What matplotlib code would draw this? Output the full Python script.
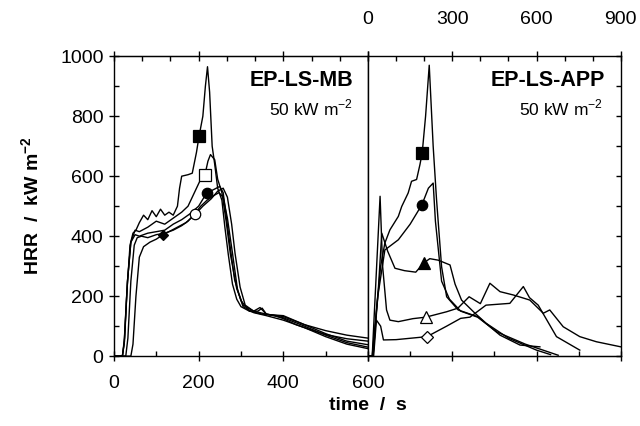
"""HRR curves for EP-LS-MB and EP-LS-APP at 50 kW m-2 (two panels, shared y)."""

import matplotlib

matplotlib.use("Agg")
import matplotlib.pyplot as plt
import numpy as np
from matplotlib.ticker import MultipleLocator, NullFormatter

plt.rcParams["font.family"] = ["Liberation Sans", "DejaVu Sans"]
plt.rcParams["mathtext.fontset"] = "custom"
plt.rcParams["mathtext.rm"] = "Liberation Sans"
plt.rcParams["mathtext.bf"] = "Liberation Sans:bold"

# --- left panel: EP-LS-MB (time axis 0-600 s) ---
mb_sq_t = [0, 20, 24, 30, 38, 45, 52, 60, 70, 80, 90, 100, 110, 120, 130, 140, 150, 155, 160, 175,
           185, 195, 201, 210, 216, 221, 226, 232, 238, 245, 255, 262, 270, 280, 290, 300, 320, 340,
           350, 360, 380, 400, 430, 460, 500, 550, 600]
mb_sq_h = [0, 0, 40, 200, 370, 410, 420, 445, 470, 455, 485, 465, 490, 470, 480, 470, 500, 560, 600, 605,
           610, 680, 733, 800, 900, 965, 880, 700, 640, 560, 520, 430, 340, 240, 190, 165, 150, 150,
           160, 140, 135, 125, 105, 90, 72, 58, 50]

mb_osq_t = [0, 20, 25, 32, 40, 50, 60, 80, 100, 120, 140, 160, 175, 185, 195, 205, 215, 222, 228, 238,
            245, 255, 265, 275, 290, 305, 330, 345, 360, 400, 450, 500, 550, 600]
mb_osq_h = [0, 0, 60, 250, 380, 420, 415, 430, 450, 440, 460, 480, 500, 530, 560, 590, 605, 650, 672, 655,
            590, 545, 450, 340, 225, 170, 150, 162, 140, 132, 105, 85, 70, 60]

mb_ci_t = [0, 20, 25, 32, 40, 50, 60, 80, 100, 120, 140, 160, 180, 200, 219, 235, 250, 258, 265, 275,
           285, 300, 320, 350, 400, 450, 500, 550, 600]
mb_ci_h = [0, 0, 50, 250, 380, 405, 400, 410, 415, 420, 440, 455, 475, 500, 544, 555, 566, 545, 470, 360,
           255, 185, 150, 140, 135, 105, 75, 50, 38]

mb_oci_t = [0, 28, 33, 40, 48, 55, 65, 80, 100, 120, 140, 160, 175, 191, 205, 220, 235, 248, 258, 268,
            280, 292, 305, 330, 360, 400, 450, 500, 550, 600]
mb_oci_h = [0, 0, 60, 250, 370, 395, 400, 395, 405, 410, 420, 435, 450, 475, 500, 520, 535, 545, 530, 460,
            343, 220, 165, 145, 135, 120, 95, 65, 40, 25]

mb_di_t = [0, 40, 45, 52, 60, 70, 85, 100, 116, 130, 150, 170, 190, 210, 230, 245, 258, 268, 278, 286,
           298, 310, 330, 360, 400, 450, 500, 550, 600]
mb_di_h = [0, 0, 40, 200, 330, 365, 380, 390, 405, 415, 430, 445, 470, 500, 525, 550, 560, 530, 440, 343,
           230, 170, 150, 140, 128, 100, 70, 45, 30]

mb_mark_t = [201, 215, 219, 191, 116]

# --- right panel: EP-LS-APP (time axis 0-900 s) ---
app_sq_t = [0, 18, 30, 45, 60, 78, 108, 120, 143, 155, 173, 185, 193, 205, 218, 232, 244, 262, 280,
            321, 392, 470, 541, 612]
app_sq_h = [0, 0, 150, 300, 377, 421, 466, 499, 544, 583, 589, 639, 678, 800, 970, 700, 522, 298, 198,
            154, 131, 70, 37, 31]

app_ci_t = [0, 18, 35, 60, 108, 150, 192, 215, 232, 240, 262, 290, 330, 390, 460, 560, 677]
app_ci_h = [0, 0, 200, 354, 388, 440, 505, 560, 577, 450, 250, 190, 150, 130, 80, 40, 3]

app_tri_t = [0, 15, 37, 49, 70, 96, 130, 170, 199, 220, 250, 292, 310, 333, 381, 420, 500, 600, 650]
app_tri_h = [0, 0, 226, 410, 350, 293, 285, 280, 311, 325, 320, 304, 240, 187, 143, 110, 60, 20, 5]

app_otri_t = [0, 15, 43, 52, 66, 78, 108, 160, 206, 280, 320, 360, 400, 434, 470, 517, 576, 624, 647,
              695, 754, 813, 900]
app_otri_h = [0, 0, 533, 300, 154, 120, 115, 125, 130, 148, 160, 198, 175, 243, 215, 204, 187, 143, 154,
              98, 65, 48, 31]

app_odi_t = [0, 20, 30, 45, 55, 100, 210, 280, 330, 363, 420, 505, 553, 575, 606, 671, 754]
app_odi_h = [0, 0, 120, 100, 54, 55, 65, 100, 126, 130, 170, 176, 232, 195, 170, 65, 20]

app_mark_t = [193, 192, 199, 206, 210]

# marker style per curve: (marker, filled, size)
STYLES = [("s", True, 8), ("s", False, 8), ("o", True, 7.5), ("o", False, 7.5), ("D", True, 5.5)]
STYLES_APP = [("s", True, 8), ("o", True, 7.5), ("^", True, 8), ("^", False, 8), ("D", False, 6.5)]


def draw_curves(ax, curves, mark_t, styles):
    for (t, h), mt, (m, filled, ms) in zip(curves, mark_t, styles):
        ax.plot(t, h, color="k", lw=1.0)
        ax.plot([mt], [np.interp(mt, t, h)], marker=m, ms=ms, mfc="k" if filled else "white",
                mec="k", mew=0.9, ls="none", zorder=5)


fig = plt.figure(figsize=(6.4, 4.26), dpi=100)
ax1 = fig.add_axes([0.178, 0.164, 0.397, 0.704])
ax2 = fig.add_axes([0.575, 0.164, 0.395, 0.704])

draw_curves(ax1, [(mb_sq_t, mb_sq_h), (mb_osq_t, mb_osq_h), (mb_ci_t, mb_ci_h),
                  (mb_oci_t, mb_oci_h), (mb_di_t, mb_di_h)], mb_mark_t, STYLES)
draw_curves(ax2, [(app_sq_t, app_sq_h), (app_ci_t, app_ci_h), (app_tri_t, app_tri_h),
                  (app_otri_t, app_otri_h), (app_odi_t, app_odi_h)], app_mark_t, STYLES_APP)

for ax in (ax1, ax2):
    ax.set_ylim(0, 1000)
    for s in ax.spines.values():
        s.set_linewidth(1.0)

# left panel axes
ax1.set_xlim(0, 600)
ax1.xaxis.set_major_locator(MultipleLocator(200))
ax1.xaxis.set_minor_locator(MultipleLocator(100))
ax1.yaxis.set_major_locator(MultipleLocator(200))
ax1.yaxis.set_minor_locator(MultipleLocator(100))
ax1.tick_params(which="major", direction="inout", length=7, width=1.0, labelsize=14, pad=10)
ax1.tick_params(which="minor", direction="in", length=3.5, width=1.0)
ax1.tick_params(axis="y", pad=4)
top1 = ax1.secondary_xaxis("top", functions=(lambda x: x * 1.5, lambda x: x / 1.5))
top1.set_xticks([0, 300, 600, 900])
top1.xaxis.set_minor_locator(MultipleLocator(100))
top1.xaxis.set_major_formatter(NullFormatter())
top1.tick_params(which="major", direction="inout", length=7, width=1.0)
top1.tick_params(which="minor", direction="in", length=3.5, width=1.0)

# right panel axes
ax2.set_xlim(0, 900)
ax2.xaxis.tick_top()
ax2.xaxis.set_major_locator(MultipleLocator(300))
ax2.xaxis.set_minor_locator(MultipleLocator(100))
ax2.tick_params(axis="x", which="major", direction="inout", length=7, width=1.0, labelsize=14, pad=17)
ax2.tick_params(axis="x", which="minor", direction="in", length=3.5, width=1.0)
ax2.yaxis.tick_right()
ax2.yaxis.set_major_locator(MultipleLocator(100))
ax2.tick_params(axis="y", which="both", direction="in", length=3.5, width=1.0, labelright=False)
bot2 = ax2.secondary_xaxis("bottom", functions=(lambda x: x / 1.5, lambda x: x * 1.5))
bot2.set_xticks([0, 200, 400, 600])
bot2.xaxis.set_minor_locator(MultipleLocator(100))
bot2.xaxis.set_major_formatter(NullFormatter())
bot2.tick_params(which="major", direction="inout", length=7, width=1.0)
bot2.tick_params(which="minor", direction="in", length=3.5, width=1.0)

ax1.text(0.941, 0.90, "EP-LS-MB", transform=ax1.transAxes, ha="right", va="baseline",
         fontsize=15.5, weight="bold")
ax1.text(0.941, 0.803, r"50 kW m$^{-2}$", transform=ax1.transAxes, ha="right", va="baseline",
         fontsize=12.5)
ax2.text(0.937, 0.90, "EP-LS-APP", transform=ax2.transAxes, ha="right", va="baseline",
         fontsize=15.5, weight="bold")
ax2.text(0.929, 0.803, r"50 kW m$^{-2}$", transform=ax2.transAxes, ha="right", va="baseline",
         fontsize=12.5)

fig.text(0.05, 0.516, r"HRR  /  kW m$^{\mathbf{-2}}$", rotation=90, ha="center", va="center",
         fontsize=14, weight="bold")
fig.text(0.575, 0.049, "time  /  s", ha="center", va="center", fontsize=14, weight="bold")

fig.savefig("out.png", dpi=100)
